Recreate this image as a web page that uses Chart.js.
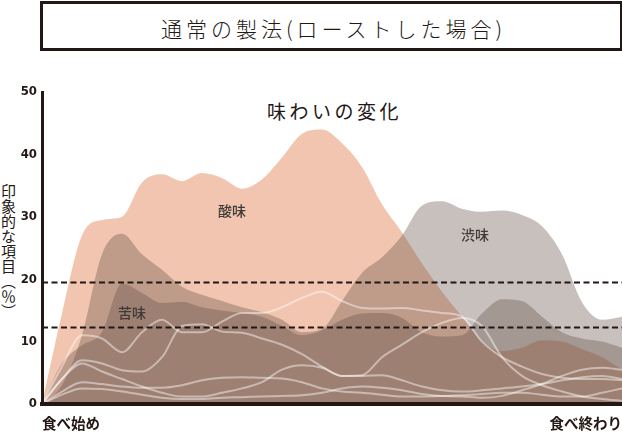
<!DOCTYPE html>
<html>
<head>
<meta charset="UTF-8">
<title>通常の製法（ローストした場合）</title>
<script src="https://cdn.jsdelivr.net/npm/chart.js@4.4.1/dist/chart.umd.min.js"></script>
<style>
  * { margin: 0; padding: 0; box-sizing: border-box; }
  body { width: 622px; height: 434px; background: #fff; overflow: hidden; position: relative;
         font-family: "Noto Sans CJK JP", sans-serif; color: #231815; }
  .title-box { position: absolute; left: 40px; top: 1px; width: 583px; height: 50px;
               border: 3px solid #231815; }
  .title-box span { position: absolute; left: 0; right: 0; top: 9px; text-align: center;
                    font-size: 21px; letter-spacing: 4px; font-weight: 300; padding-left: 4px; }
  .subtitle { position: absolute; left: 267px; top: 97px; font-size: 19px; letter-spacing: 3.5px; }
  .y-title { position: absolute; left: 0px; top: 184px; writing-mode: vertical-rl;
             font-size: 15px; line-height: 16px; letter-spacing: 0px; }
  .chart-wrap { position: absolute; left: 0; top: 0; width: 622px; height: 434px; }
</style>
</head>
<body>
  <div class="title-box"><span>通常の製法(ローストした場合)</span></div>
  <div class="subtitle">味わいの変化</div>
  <div class="y-title">印象的な項目（％）</div>
  <div class="chart-wrap"><canvas id="chart"></canvas></div>

<script>
  // time steps from start to end of tasting
  const timeSteps = [0, 1, 2, 3, 4, 5, 6, 7, 8, 9, 10, 11, 12, 13, 14, 15, 16, 17, 18, 19, 20, 21, 22, 23, 24, 25, 26, 27, 28, 29];
  const xEndLabels = ['食べ始め', '食べ終わり'];
  const yTicks = [0, 10, 20, 30, 40, 50];
  const refLines = [19.5, 12.3];

  // 酸味 / 渋味 / 苦味 (%)
  const sanmi = [0, 14.5, 27, 29.5, 30, 35.5, 36.8, 35.7, 37, 36.2, 34.5, 36, 39.5, 43.3, 44, 41.8, 38, 32, 27.5, 22.5, 18, 14, 10, 8.5, 9, 10.2, 10, 8.8, 7.5, 5.5];
  const shibumi = [0, 3, 11, 24, 27.3, 24, 21.5, 18.8, 17.5, 16.5, 15.5, 14.7, 13.5, 11.5, 12, 16.5, 21, 23.5, 27, 31.8, 32.5, 31.3, 30.8, 31, 30.3, 28.5, 24, 16.3, 13.5, 14];
  const nigami = [0, 6.5, 9.4, 11.5, 19.3, 17.8, 16.2, 16.4, 15.5, 15, 14.6, 14, 12.5, 11, 11.8, 13.5, 14.5, 14.6, 13.8, 11.5, 10.8, 11, 14.5, 16.8, 16.5, 14, 11.5, 10.5, 10, 9];

  // other items (white lines)
  const itemA = [0, 6, 11, 10.5, 8.3, 11.5, 13.5, 11.5, 11.5, 13.2, 14.6, 14.6, 15.5, 17, 18, 16.5, 15.4, 15.3, 15.4, 15, 14.6, 14, 10, 7.5, 6, 4.8, 4.2, 4, 4, 3.8];
  const itemB = [0, 4, 7, 6.5, 5.4, 5.2, 7.5, 12.5, 12.8, 11.6, 11.4, 10.5, 9.5, 8, 6, 4.5, 4.6, 7.5, 9.5, 11.5, 13, 13.8, 12.5, 7.5, 4.5, 3, 2, 1.2, 0.8, 0.5];
  const itemC = [0, 4, 6.5, 5.2, 4, 2.8, 1.8, 1.2, 1.2, 1.8, 2.5, 3.5, 5.5, 6.2, 5.8, 4.5, 4.5, 4.6, 3.8, 2.8, 2.2, 2, 2.2, 2.5, 2.8, 3.2, 3.8, 4.3, 4.5, 4];
  const itemD = [0, 1.5, 2.5, 2.4, 2, 1.5, 1, 0.8, 0.8, 1, 1.1, 1.2, 1.3, 1.4, 1.8, 2.5, 2.8, 2.6, 2.2, 1.6, 1.3, 1.4, 1.6, 1.8, 1.8, 1.5, 1.2, 1.2, 1.8, 2.5];
  const itemE = [0, 2, 3.5, 3.2, 2.8, 2.6, 2.6, 3, 3.8, 4.2, 4.3, 4.2, 4.1, 3.5, 2.5, 2, 1.8, 1.5, 1.2, 1.2, 1.3, 1.2, 1, 1.3, 2.2, 3.2, 4.5, 5.5, 5.8, 5.5];

  const areaLabels = [
    { text: '酸味', at: [9.5, 30.9] },
    { text: '渋味', at: [21.65, 27.2] },
    { text: '苦味', at: [4.5, 14.6] }
  ];

  const ink = '#231815';
  const veil = 'rgba(100, 80, 72, 0.36)';

  function area(label, data, color, order) {
    return {
      label, data, order,
      backgroundColor: color,
      borderWidth: 0,
      pointRadius: 0,
      fill: 'origin',
      cubicInterpolationMode: 'monotone'
    };
  }

  function whiteLine(data) {
    return {
      data, order: 0,
      borderColor: 'rgba(255, 255, 255, 0.45)',
      borderWidth: 2,
      pointRadius: 0,
      fill: false,
      cubicInterpolationMode: 'monotone'
    };
  }

  const overlay = {
    id: 'overlay',
    afterDatasetsDraw(chart) {
      const { ctx, chartArea, scales: { x, y } } = chart;
      ctx.save();
      ctx.strokeStyle = ink;
      ctx.lineWidth = 2;
      ctx.setLineDash([6, 3.5]);
      refLines.forEach(v => {
        const py = Math.round(y.getPixelForValue(v)) + 0.5;
        ctx.beginPath();
        ctx.moveTo(chartArea.left, py);
        ctx.lineTo(chartArea.right, py);
        ctx.stroke();
      });
      ctx.setLineDash([]);
      ctx.fillStyle = '#3e3a39';
      ctx.font = '500 14px "Noto Sans CJK JP"';
      ctx.textAlign = 'center';
      ctx.textBaseline = 'middle';
      areaLabels.forEach(l => {
        ctx.fillText(l.text, x.getPixelForValue(l.at[0]), y.getPixelForValue(l.at[1]));
      });
      ctx.restore();
    }
  };

  new Chart(document.getElementById('chart'), {
    type: 'line',
    data: {
      labels: timeSteps,
      datasets: [
        whiteLine(itemA), whiteLine(itemB), whiteLine(itemC), whiteLine(itemD), whiteLine(itemE),
        area('苦味', nigami, veil, 1),
        area('渋味', shibumi, veil, 2),
        area('酸味', sanmi, 'rgb(242, 197, 176)', 3)
      ]
    },
    options: {
      responsive: true,
      maintainAspectRatio: false,
      animation: false,
      layout: { padding: { top: 92, right: 0, left: 0, bottom: 0 } },
      plugins: { legend: { display: false }, tooltip: { enabled: false } },
      scales: {
        x: {
          type: 'category',
          offset: false,
          afterFit(s) { s.height = 30; s.paddingLeft = 0; s.paddingRight = 0; },
          grid: { display: false, drawTicks: false },
          border: { display: true, color: ink, width: 4, z: 1 },
          ticks: {
            autoSkip: false, maxRotation: 0, align: 'inner', padding: 11, color: ink,
            font: { family: '"Noto Sans CJK JP"', size: 14.5, weight: 'bold' },
            callback(v, i, all) {
              if (i === 0) return xEndLabels[0];
              if (i === all.length - 1) return xEndLabels[1];
              return '';
            }
          }
        },
        y: {
          min: 0, max: 50,
          afterFit(s) { s.width = 42; },
          afterBuildTicks(s) { s.ticks = yTicks.map(v => ({ value: v })); },
          grid: { display: false, drawTicks: false },
          border: { display: true, color: ink, width: 3, z: 1 },
          ticks: {
            padding: 5, color: ink,
            font: { family: '"Liberation Sans Narrow", "DejaVu Sans Condensed", sans-serif', size: 13, weight: 'bold' }
          }
        }
      }
    },
    plugins: [overlay]
  });
</script>
</body>
</html>
